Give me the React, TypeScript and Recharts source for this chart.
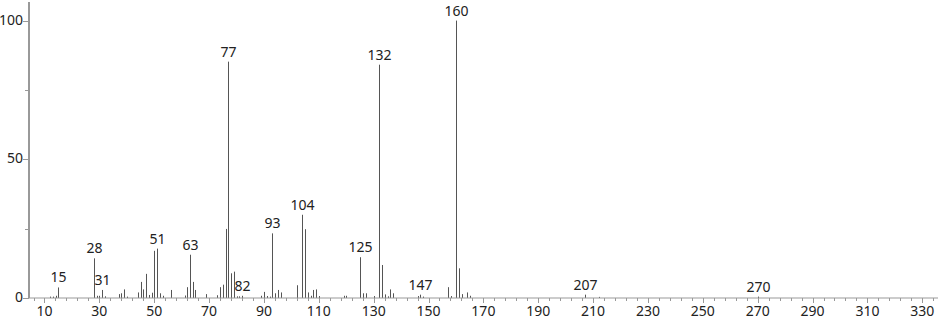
import React from 'react';
import { BarChart, Bar, XAxis, YAxis, LabelList } from 'recharts';

// m/z of every stick
const masses = [
  12, 13, 14, 15, 28, 29, 30, 31, 32, 37, 38, 39, 40, 44, 45, 46, 47, 48, 49, 50,
  51, 52, 53, 56, 61, 62, 63, 64, 65, 69, 73, 74, 75, 76, 77, 78, 79, 80, 81, 82,
  89, 90, 91, 92, 93, 94, 95, 96, 102, 104, 105, 106, 107, 108, 109, 110, 119, 120,
  125, 126, 127, 130, 132, 133, 134, 135, 136, 137, 146, 147, 148, 157, 158, 160,
  161, 162, 164, 165, 207, 212, 270,
];

// relative intensity (%) for each mass above
const intensities = [
  0.5, 0.5, 0.8, 3.8, 14.3, 0.8, 0.8, 2.9, 0.6, 1.4, 1.7, 3.1, 0.5, 2, 5.8, 3.1, 8.7, 1.1, 1.9, 17,
  17.8, 1.7, 0.8, 2.9, 0.9, 3.9, 15.6, 5.8, 2.9, 1.4, 1, 3.9, 4.8, 24.9, 85.2, 8.9, 9.5, 0.6, 0.6, 0.8,
  0.8, 2.2, 0.7, 0.5, 23.3, 1.7, 2.9, 2, 4.6, 30, 24.8, 2, 0.8, 2.9, 3.1, 0.7, 0.8, 0.8,
  14.7, 1.7, 1.7, 0.7, 84.1, 11.9, 1.3, 0.6, 3.1, 1.7, 0.7, 1.2, 0.5, 3.9, 0.7, 100,
  10.7, 1.4, 2, 0.8, 1.2, 0.4, 0.5,
];

const labeledPeaks = [15, 28, 31, 51, 63, 77, 82, 93, 104, 125, 132, 147, 160, 207, 270];

const xLabelTicks = [10, 30, 50, 70, 90, 110, 130, 150, 170, 190, 210, 230, 250, 270, 290, 310, 330];
const xAllTicks = Array.from({ length: 83 }, (_, i) => 6 + i * 4);
const yTicks = [0, 25, 50, 75, 100];
const yLabelTicks = [0, 50, 100];

const data = masses.map((m, i) => ({
  mz: m,
  intensity: intensities[i],
  tag: labeledPeaks.includes(m) ? String(m) : undefined,
}));

const FONT = '"Noto Sans", sans-serif';
const AXIS = '#999';
const TEXT = '#222';

const Stick = (props: any) => {
  const { x, y, width, height } = props;
  if (x == null || y == null) return null;
  const cx = Math.round(x + width / 2) + 0.5;
  return <line x1={cx} x2={cx} y1={y} y2={y + height} stroke="#555" strokeWidth={1} />;
};

const PeakLabel = (props: any) => {
  const { x, y, width, value } = props;
  if (!value) return null;
  return (
    <text x={Math.round(x + width / 2) + 0.5} y={y - 5} textAnchor="middle" fontFamily={FONT} fontSize={14} fill={TEXT}>
      {value}
    </text>
  );
};

const XTick = (props: any) => {
  const { x, y, payload } = props;
  const v = payload.value;
  const major = xLabelTicks.includes(v);
  const px = Math.round(x) + 0.5;
  return (
    <g>
      <line x1={px} x2={px} y1={y} y2={y + (major ? 5 : 3)} stroke={AXIS} />
      {major && (
        <text x={x} y={y + 18} textAnchor="middle" fontFamily={FONT} fontSize={14} fill={TEXT}>
          {v}
        </text>
      )}
    </g>
  );
};

const YTick = (props: any) => {
  const { x, y, payload } = props;
  const v = payload.value;
  const major = yLabelTicks.includes(v);
  const py = Math.round(y) + 0.5;
  return (
    <g>
      <line x1={x - (major ? 6 : 4)} x2={x} y1={py} y2={py} stroke={AXIS} />
      {major && (
        <text x={x - 6} y={y + 4} textAnchor="end" fontFamily={FONT} fontSize={14} fill={TEXT}>
          {v}
        </text>
      )}
    </g>
  );
};

export default function App() {
  return (
    <div style={{ width: 940, height: 320, background: '#fff' }}>
      <style>{'body{margin:0}'}</style>
      <BarChart width={940} height={320} data={data} margin={{ top: 2, right: 2, left: 0, bottom: 0 }}>
        <XAxis
          type="number"
          dataKey="mz"
          domain={[4.35, 335.74]}
          allowDataOverflow
          ticks={xAllTicks}
          interval={0}
          tickSize={0}
          tickMargin={0}
          tickLine={false}
          tick={<XTick />}
          axisLine={{ stroke: AXIS }}
          height={22}
        />
        <YAxis
          type="number"
          domain={[0, 106.7]}
          allowDataOverflow
          ticks={yTicks}
          interval={0}
          tickSize={0}
          tickMargin={0}
          tickLine={false}
          tick={<YTick />}
          axisLine={{ stroke: AXIS, strokeWidth: 2 }}
          width={29}
        />
        <Bar dataKey="intensity" barSize={1} shape={<Stick />} isAnimationActive={false}>
          <LabelList dataKey="tag" content={<PeakLabel />} />
        </Bar>
      </BarChart>
    </div>
  );
}
